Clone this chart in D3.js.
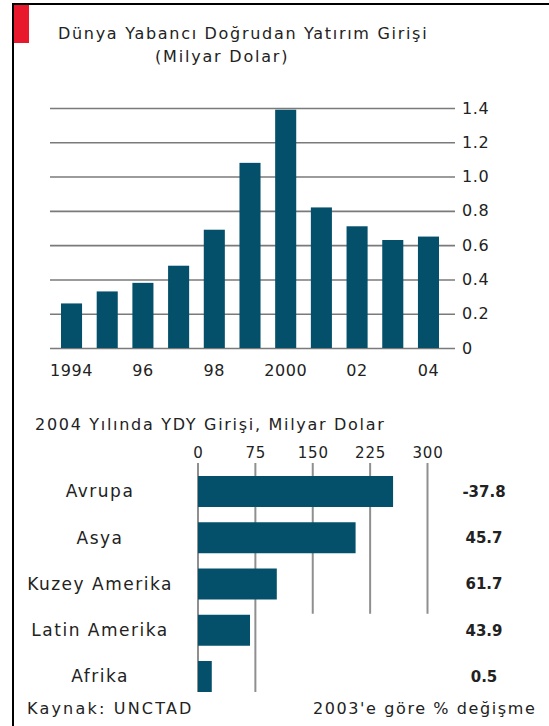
<!DOCTYPE html>
<html>
<head>
<meta charset="utf-8">
<script src="https://cdn.jsdelivr.net/npm/d3@7"></script>
<style>
  body { margin: 0; background: #fff; }
  text { font-family: "DejaVu Sans", Verdana, sans-serif; fill: #222; }
  .domain { display: none; }
</style>
</head>
<body>
<script>
// top chart: world FDI inflow
var years = [1994, 1995, 1996, 1997, 1998, 1999, 2000, 2001, 2002, 2003, 2004];
var inflow = [0.26, 0.33, 0.38, 0.48, 0.69, 1.08, 1.39, 0.82, 0.71, 0.63, 0.65];
var labeledYears = [1994, 1996, 1998, 2000, 2002, 2004];
var yearTickLabels = ["1994", "96", "98", "2000", "02", "04"];
var yTicks = [0, 0.2, 0.4, 0.6, 0.8, 1.0, 1.2, 1.4];

// bottom chart: 2004 by region
var regions = ["Avrupa", "Asya", "Kuzey Amerika", "Latin Amerika", "Afrika"];
var regionInflow = [255, 206, 103, 68, 18];
var changePct = ["-37.8", "45.7", "61.7", "43.9", "0.5"];
var xTicks = [0, 75, 150, 225, 300];

var width = 549, height = 726;
var barColor = "#04506b";

var svg = d3.select("body").append("svg")
  .attr("width", width)
  .attr("height", height);

// frame + red tag
svg.append("rect").attr("x", 0).attr("y", 0).attr("width", width).attr("height", height).attr("fill", "#fff");
svg.append("line").attr("x1", 13).attr("x2", width).attr("y1", 4).attr("y2", 4)
  .attr("stroke", "#000").attr("stroke-width", 2);
svg.append("line").attr("x1", 13).attr("x2", 13).attr("y1", 3).attr("y2", height)
  .attr("stroke", "#000").attr("stroke-width", 2);
svg.append("rect").attr("x", 14).attr("y", 5).attr("width", 15).attr("height", 38).attr("fill", "#e8192c");

svg.append("text").attr("x", 58).attr("y", 39)
  .style("font-size", "16px").style("letter-spacing", "1.7px")
  .text("Dünya Yabancı Doğrudan Yatırım Girişi");
svg.append("text").attr("x", 155).attr("y", 62)
  .style("font-size", "16px").style("letter-spacing", "1.8px")
  .text("(Milyar Dolar)");

// ---- top bar chart
var xScale = d3.scaleBand()
  .domain(years)
  .range([61, 439])
  .paddingInner(0.41)
  .paddingOuter(0);

var yScale = d3.scaleLinear()
  .domain([0, 1.4])
  .range([348, 108]);

var yAxis = svg.append("g")
  .attr("transform", "translate(455,0)")
  .call(d3.axisRight(yScale)
    .tickValues(yTicks)
    .tickSize(-405)
    .tickPadding(7)
    .tickFormat(function(d) { return d === 0 ? "0" : d.toFixed(1); }));
yAxis.selectAll("line").attr("stroke", "#7a7a7a").attr("stroke-width", 1.6);
yAxis.selectAll("text").style("font-size", "16px").style("letter-spacing", "0.6px").attr("fill", "#333");

svg.append("g").selectAll("rect")
  .data(years)
  .enter().append("rect")
  .attr("x", function(d) { return xScale(d); })
  .attr("y", function(d, i) { return yScale(inflow[i]); })
  .attr("width", xScale.bandwidth())
  .attr("height", function(d, i) { return yScale(0) - yScale(inflow[i]); })
  .attr("fill", barColor);

var xAxis = svg.append("g")
  .attr("transform", "translate(0,348)")
  .call(d3.axisBottom(xScale)
    .tickValues(labeledYears)
    .tickSize(0)
    .tickPadding(16.5)
    .tickFormat(function(d) { return yearTickLabels[labeledYears.indexOf(d)]; }));
xAxis.selectAll("text").style("font-size", "16px").style("letter-spacing", "0.6px").attr("fill", "#333");

// ---- bottom chart
svg.append("text").attr("x", 35).attr("y", 429.5)
  .style("font-size", "16px").style("letter-spacing", "1.7px")
  .text("2004 Yılında YDY Girişi, Milyar Dolar");

var hx = d3.scaleLinear()
  .domain([0, 300])
  .range([198, 427.5]);

var hy = d3.scaleBand()
  .domain(regions)
  .range([476, 692])
  .paddingInner(0.33)
  .paddingOuter(0);

var hAxis = svg.append("g")
  .attr("transform", "translate(0,458)")
  .call(d3.axisTop(hx).tickValues(xTicks).tickSize(0).tickPadding(0));
hAxis.selectAll("text").attr("dy", 0).style("font-size", "15px").style("letter-spacing", "0.8px").attr("fill", "#444");

svg.append("g").selectAll("line")
  .data(xTicks)
  .enter().append("line")
  .attr("x1", function(d) { return hx(d); })
  .attr("x2", function(d) { return hx(d); })
  .attr("y1", 463)
  .attr("y2", function(d) { return d <= 75 ? hy.range()[1] : hy("Latin Amerika") - 1; })
  .attr("stroke", "#8f8f8f")
  .attr("stroke-width", 2);

svg.append("g").selectAll("rect")
  .data(regions)
  .enter().append("rect")
  .attr("x", hx(0))
  .attr("y", function(d) { return hy(d); })
  .attr("width", function(d, i) { return hx(regionInflow[i]) - hx(0); })
  .attr("height", hy.bandwidth())
  .attr("fill", barColor);

svg.append("g").selectAll("text")
  .data(regions)
  .enter().append("text")
  .attr("x", 100)
  .attr("y", function(d) { return hy(d) + hy.bandwidth() / 2; })
  .attr("dy", "0.35em")
  .attr("text-anchor", "middle")
  .style("font-size", "17px")
  .style("letter-spacing", "1.5px")
  .text(function(d) { return d; });

svg.append("g").selectAll("text")
  .data(changePct)
  .enter().append("text")
  .attr("x", 484)
  .attr("y", function(d, i) { return hy(regions[i]) + hy.bandwidth() / 2; })
  .attr("dy", "0.35em")
  .attr("text-anchor", "middle")
  .style("font-size", "15px")
  .style("font-weight", "bold")
  .attr("fill", "#111")
  .text(function(d) { return d; });

svg.append("text").attr("x", 27).attr("y", 713.5)
  .style("font-size", "16px").style("letter-spacing", "2.2px")
  .text("Kaynak: UNCTAD");
svg.append("text").attr("x", 313).attr("y", 713.5)
  .style("font-size", "16px").style("letter-spacing", "1.6px")
  .text("2003'e göre % değişme");
</script>
</body>
</html>
